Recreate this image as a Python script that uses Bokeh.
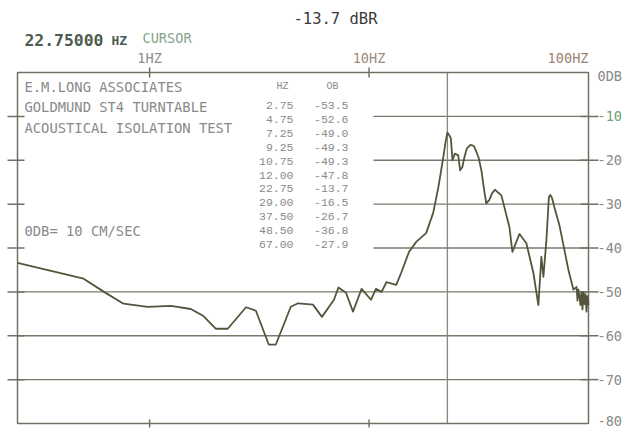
import math
from bokeh.plotting import figure
from bokeh.models import Label
from bokeh.embed import file_html
from bokeh.resources import INLINE

# ---- data ----
freq_hz = [0.25, 0.50, 0.62, 0.76, 0.98, 1.25, 1.54, 1.76, 2.00, 2.27, 2.75, 3.05,
           3.49, 3.76, 4.40, 4.75, 5.55, 6.10, 6.92, 7.25, 7.85, 8.45, 9.25, 10.2,
           10.75, 11.4, 12.0, 13.3, 14.0, 15.2, 16.4, 18.2, 19.6, 20.7, 21.8, 22.3, 22.75,
           23.2, 23.6, 24.0, 24.6, 25.5, 26.0, 26.6, 27.2, 27.9, 29.0, 30.0, 30.8, 31.6, 32.5,
           33.3, 34.2, 35.3, 36.4, 37.5, 38.6, 40.1, 43.6, 45.0, 46.9, 48.5, 52.1, 56.1, 59.1,
           61.0, 62.3, 64.3, 66.0, 67.0, 68.2, 69.9, 73.7, 77.7, 81.0, 85.4, 88.2, 89.1, 90.0,
           91.0, 91.9, 92.9, 93.9, 94.9, 95.9, 96.9, 97.9, 98.9, 100.0]
level_db = [-43.4, -47.0, -50.0, -52.7, -53.4, -53.2, -53.9, -55.5, -58.4, -58.4, -53.5, -54.3,
            -62.0, -62.0, -53.4, -52.6, -52.9, -55.7, -51.8, -49.0, -50.2, -54.5, -49.3, -51.8,
            -49.3, -50.0, -47.8, -48.4, -45.7, -40.9, -38.6, -36.6, -32.0, -26.1, -19.3, -15.9, -13.7,
            -14.3, -15.0, -20.0, -18.5, -18.9, -22.3, -21.6, -19.3, -17.3, -16.5, -16.7, -18.0, -19.5, -22.3,
            -26.1, -29.8, -29.1, -27.5, -26.7, -27.3, -28.0, -35.2, -40.9, -38.6, -36.8, -38.9, -45.7, -53.0,
            -42.0, -46.6, -38.2, -28.4, -27.9, -28.6, -30.7, -34.8, -40.5, -45.0, -49.5, -48.9, -52.0, -49.5,
            -51.1, -53.0, -50.0, -54.0, -50.0, -52.8, -50.5, -54.5, -51.0, -53.0]

table_hz = ["2.75", "4.75", "7.25", "9.25", "10.75", "12.00", "22.75", "29.00", "37.50", "48.50", "67.00"]
table_db = ["-53.5", "-52.6", "-49.0", "-49.3", "-49.3", "-47.8", "-13.7", "-16.5", "-26.7", "-36.8", "-27.9"]

cursor_hz = 22.75
cursor_text = "22.75000"
cursor_db_text = "-13.7 dBR"
y_ticks = [0, -10, -20, -30, -40, -50, -60, -70, -80]
y_tick_labels = ["0DB", "-10", "-20", "-30", "-40", "-50", "-60", "-70", "-80"]
x_ticks = [1, 10, 100]
x_tick_labels = ["1HZ", "10HZ", "100HZ"]
title_lines = ["E.M.LONG ASSOCIATES", "GOLDMUND ST4 TURNTABLE", "ACOUSTICAL ISOLATION TEST"]
ref_line = "0DB= 10 CM/SEC"

F_MIN, F_MAX, DB_MIN, DB_MAX = 0.25, 100.0, -80.0, 0.0

# ---- layout (canvas pixels) ----
W, H = 624, 428
BOX_L, BOX_R, BOX_T, BOX_B = 17, 588, 72, 423
KX = (BOX_R - BOX_L) / math.log10(F_MAX / F_MIN)
KY = (BOX_B - BOX_T) / (DB_MAX - DB_MIN)

def fx(cx):
    return 10 ** (math.log10(F_MIN) + (cx - BOX_L) / KX)

def fy(cy):
    return DB_MAX - (cy - BOX_T) / KY

LINE = "#707066"
GRID = "#7a7a6c"
TXT = "#8a8a8a"
PFONT = "DejaVu Sans Mono"
TFONT = "Liberation Mono"

p = figure(width=W, height=H, x_axis_type="log", x_range=(fx(0), fx(W)), y_range=(fy(H), fy(0)),
           output_backend="svg", toolbar_location=None,
           x_axis_location=None, y_axis_location=None,
           min_border=0, background_fill_color="white", border_fill_color="white")
p.grid.visible = False
p.outline_line_color = None

# grid lines
grid_full = [-50, -60, -70]
grid_part = [-10, -20, -30, -40]
p.multi_line(xs=[[F_MIN, F_MAX]] * len(grid_full), ys=[[g, g] for g in grid_full],
             line_color=GRID, line_width=1.3)
p.multi_line(xs=[[fx(373), F_MAX]] * len(grid_part), ys=[[g, g] for g in grid_part],
             line_color=GRID, line_width=1.3)

# ticks
inner = y_ticks[1:-1]
p.segment(x0=[fx(BOX_L - 10)] * len(inner), x1=[fx(BOX_L + 7)] * len(inner), y0=inner, y1=inner,
          line_color=LINE, line_width=1.5)
p.segment(x0=[fx(BOX_R - 8)] * len(inner), x1=[fx(BOX_R + 10)] * len(inner), y0=inner, y1=inner,
          line_color=LINE, line_width=1.5)
xt = x_ticks[:2]
p.segment(x0=xt, x1=xt, y0=[fy(BOX_T - 5)] * 2, y1=[fy(BOX_T + 5)] * 2, line_color=LINE, line_width=1.5)
p.segment(x0=xt, x1=xt, y0=[fy(BOX_B - 4)] * 2, y1=[fy(BOX_B + 4)] * 2, line_color=LINE, line_width=1.5)

# cursor
p.segment(x0=[cursor_hz], x1=[cursor_hz], y0=[DB_MIN], y1=[DB_MAX], line_color="#7d8d7e", line_width=1.3)

# frame box
p.quad(left=[F_MIN], right=[F_MAX], bottom=[DB_MIN], top=[DB_MAX], fill_color=None,
       line_color=LINE, line_width=1.5)

# response curve
p.line(freq_hz, level_db, line_color="#55553d", line_width=1.8, line_join="round")

def lab(x, y, text, font, size, color, align="left", style="normal"):
    p.add_layout(Label(x=x, y=y, text=text, text_font=font, text_font_size=size,
                       text_color=color, text_align=align, text_baseline="middle",
                       text_font_style=style))

# right-side dB labels
for v, t in zip(y_ticks, y_tick_labels):
    col = "#74a076" if v == -10 else TXT
    cy = BOX_T + (DB_MAX - v) * KY
    if v == DB_MIN:
        cy -= 3
    if v == DB_MAX:
        cy += 3
    lab(fx(597), fy(cy), t, PFONT, "13.6px", col)

# top frequency labels
top_cols = ["#8c8c8c", "#9c8a7c", "#9c8474"]
top_align = ["center", "center", "right"]
for f, t, c, al in zip(x_ticks, x_tick_labels, top_cols, top_align):
    lab(f, fy(57), t, PFONT, "13.6px", c, al)

# header
lab(fx(24), fy(39), cursor_text, "DejaVu Sans Mono", "16.4px", "#4d5c50", style="bold")
lab(fx(111), fy(40), "HZ", "DejaVu Sans Mono", "13px", "#4d5c50", style="bold")
lab(fx(142), fy(37), "CURSOR", PFONT, "13.6px", "#86a48c")
lab(fx(293), fy(18), cursor_db_text, "DejaVu Sans Mono", "15.5px", "#3a3a3a")

# annotation block
for i, t in enumerate(title_lines):
    lab(fx(24), fy(86 + i * 20.5), t, PFONT, "13.8px", TXT)
lab(fx(24), fy(230), ref_line, PFONT, "13.8px", TXT)

# table
lab(fx(282), fy(86), "HZ", TFONT, "10px", TXT, "center")
lab(fx(332), fy(86), "OB", TFONT, "10px", TXT, "center")
for i, (h, d) in enumerate(zip(table_hz, table_db)):
    cy = 105 + i * 13.9
    lab(fx(293), fy(cy), h, TFONT, "11.5px", TXT, "right")
    lab(fx(348), fy(cy), d, TFONT, "11.5px", TXT, "right")

open("out.html", "w").write(file_html(p, INLINE))
